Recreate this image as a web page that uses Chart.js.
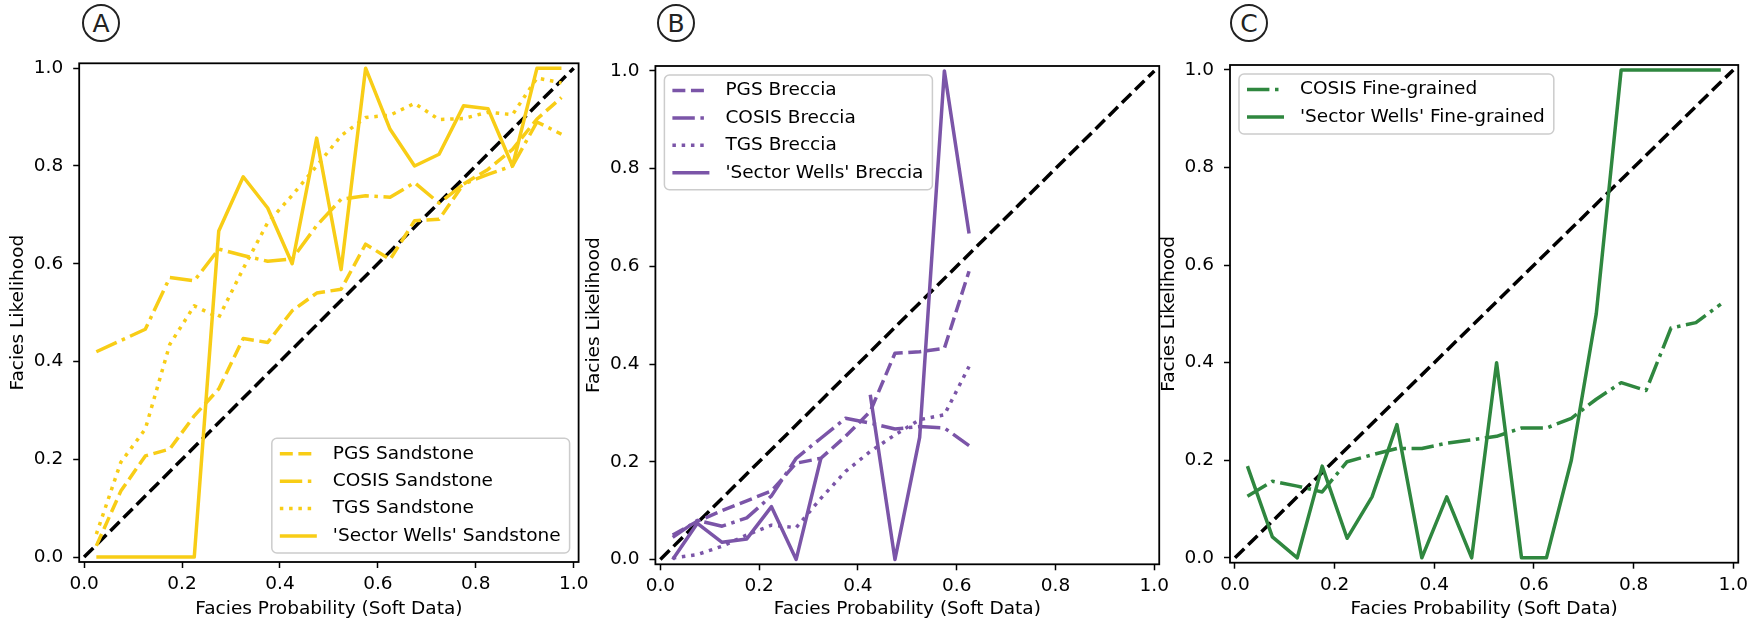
<!DOCTYPE html>
<html>
<head>
<meta charset="utf-8">
<title>Facies likelihood vs facies probability</title>
<script src="https://cdn.jsdelivr.net/npm/chart.js"></script>
<style>
    body {
        margin: 0;
        width: 1753px;
        height: 624px;
        position: relative;
        overflow: hidden;
        background: #fff;
        font-family: 'DejaVu Sans', sans-serif;
    }
    canvas {
        position: absolute;
        top: 0;
    }
    .tag {
        position: absolute;
        width: 34px;
        height: 34px;
        border: 2px solid #222;
        border-radius: 50%;
        text-align: center;
        line-height: 35px;
        font-size: 25px;
        color: #222;
    }
</style>
</head>
<body>
    <div class="tag" style="left:82px;top:4px">A</div>
    <div class="tag" style="left:657px;top:4px">B</div>
    <div class="tag" style="left:1230px;top:4px">C</div>

    <canvas id="chartA" width="599" height="624" style="left:0px"></canvas>
    <canvas id="chartB" width="598" height="624" style="left:576px"></canvas>
    <canvas id="chartC" width="602" height="624" style="left:1151px"></canvas>

<script>
// bin centres of the soft-data probability classes
var binCenters = [0.025, 0.075, 0.125, 0.175, 0.225, 0.275, 0.325, 0.375, 0.425, 0.475,
                  0.525, 0.575, 0.625, 0.675, 0.725, 0.775, 0.825, 0.875, 0.925, 0.975];
var axisTicks = [0, 0.2, 0.4, 0.6, 0.8, 1.0];
var diagonal = [0, 1];

// Sandstone
var pgsSandstone   = [0.023, 0.135, 0.207, 0.221, 0.289, 0.344, 0.447, 0.439, 0.504, 0.540,
                      0.548, 0.640, 0.609, 0.688, 0.691, 0.763, 0.793, 0.834, 0.896, 0.940];
var cosisSandstone = [0.420, 0.443, 0.466, 0.572, 0.565, 0.630, 0.617, 0.605, 0.610, 0.678,
                      0.732, 0.739, 0.736, 0.766, 0.724, 0.763, 0.783, 0.800, 0.890, 0.865];
var tgsSandstone   = [0.047, 0.194, 0.262, 0.435, 0.514, 0.490, 0.590, 0.684, 0.740, 0.800,
                      0.862, 0.899, 0.904, 0.928, 0.895, 0.897, 0.910, 0.905, 0.980, 0.970];
var wellsSandstone = [0, 0, 0, 0, 0, 0.667, 0.778, 0.714, 0.600, 0.857,
                      0.588, 1, 0.875, 0.800, 0.824, 0.923, 0.917, 0.800, 1, 1];

// Breccia (no samples above 0.65, wells have an empty bin at 0.375)
var pgsBreccia   = [0.050, 0.078, 0.100, 0.120, 0.140, 0.197, 0.207, 0.252, 0.303, 0.422, 0.425, 0.432, 0.590];
var cosisBreccia = [0.045, 0.080, 0.068, 0.085, 0.130, 0.207, 0.248, 0.289, 0.279, 0.267, 0.272, 0.269, 0.233];
var tgsBreccia   = [0.003, 0.010, 0.027, 0.050, 0.070, 0.065, 0.125, 0.180, 0.221, 0.255, 0.286, 0.296, 0.395];
var wellsBreccia = [0, 0.074, 0.035, 0.042, 0.108, 0, 0.207, null, 0.337, 0, 0.250, 1, 0.667];

// Fine-grained
var cosisFine = [0.126, 0.157, 0.147, 0.135, 0.197, 0.211, 0.224, 0.224, 0.235, 0.242,
                 0.249, 0.266, 0.266, 0.286, 0.325, 0.359, 0.343, 0.471, 0.482, 0.520];
var wellsFine = [0.188, 0.043, 0, 0.188, 0.040, 0.125, 0.273, 0, 0.125, 0,
                 0.400, 0, 0, 0.200, 0.500, 1, 1, 1, 1, 1];

var YELLOW = '#f8cd16';
var PURPLE = '#7b55a8';
var GREEN = '#2f873f';

var FONT = "'DejaVu Sans', sans-serif";
var FONT_SIZE = 18.5;
var LW = 3.5;

Chart.defaults.font.family = FONT;
Chart.defaults.font.size = FONT_SIZE;
Chart.defaults.color = '#000';

// dash patterns scale with the line width, as in matplotlib
var dashes = {
    solid: [],
    dashed: [3.7 * LW, 1.6 * LW],
    dashdot: [6.4 * LW, 1.6 * LW, 1 * LW, 1.6 * LW],
    dotted: [1 * LW, 1.65 * LW]
};

function series(label, values, color, style, order) {
    return {
        label: label,
        data: values.map((v, i) => ({ x: binCenters[i], y: v })),
        borderColor: color,
        borderWidth: LW,
        borderDash: dashes[style],
        borderJoinStyle: 'round',
        pointRadius: 0,
        fill: false,
        tension: 0,
        order: order
    };
}

function oneToOne() {
    return {
        label: '',
        data: diagonal.map(v => ({ x: v, y: v })),
        borderColor: '#000',
        borderWidth: LW,
        borderDash: dashes.dashed,
        pointRadius: 0,
        fill: false,
        order: 20
    };
}

// black box round the plot area
var frame = {
    id: 'frame',
    afterDatasetsDraw(chart) {
        var a = chart.chartArea, ctx = chart.ctx;
        ctx.save();
        ctx.strokeStyle = '#000';
        ctx.lineWidth = 1.8;
        ctx.strokeRect(a.left, a.top, a.right - a.left, a.bottom - a.top);
        ctx.restore();
    }
};

// matplotlib style legend: framed box with line samples
var boxLegend = {
    id: 'boxLegend',
    afterDraw(chart, args, opts) {
        var ctx = chart.ctx, a = chart.chartArea;
        var items = chart.data.datasets.filter(d => d.label);
        items.sort((p, q) => q.order - p.order);
        ctx.save();
        ctx.font = FONT_SIZE + 'px ' + FONT;
        var textW = Math.max.apply(null, items.map(d => ctx.measureText(d.label).width));
        var w = 8 + 37 + 16 + textW + 9;
        var h = 15.5 + (items.length - 1) * 27.4 + 17;
        var x, y;
        if (opts.corner === 'lower right') {
            x = a.right - 9 - w;
            y = a.bottom - 9 - h;
        } else {
            x = a.left + 9;
            y = a.top + 9;
        }
        ctx.beginPath();
        ctx.roundRect(x, y, w, h, 5);
        ctx.fillStyle = 'rgba(255,255,255,0.8)';
        ctx.fill();
        ctx.strokeStyle = '#cccccc';
        ctx.lineWidth = 1.5;
        ctx.stroke();
        items.forEach((d, i) => {
            var cy = y + 15.5 + i * 27.4;
            ctx.beginPath();
            ctx.setLineDash(d.borderDash);
            ctx.strokeStyle = d.borderColor;
            ctx.lineWidth = d.borderWidth;
            ctx.moveTo(x + 8, cy);
            ctx.lineTo(x + 45, cy);
            ctx.stroke();
            ctx.setLineDash([]);
            ctx.fillStyle = '#000';
            ctx.textBaseline = 'middle';
            ctx.fillText(d.label, x + 61, cy);
        });
        ctx.restore();
    }
};

function makeChart(canvasId, canvasLeft, plot, datasets, corner) {
    var canvas = document.getElementById(canvasId);
    var ctx = canvas.getContext('2d');
    var tickGrid = { drawOnChartArea: false, drawTicks: true, tickLength: 6, tickColor: '#000', tickWidth: 1.5 };
    return new Chart(ctx, {
        type: 'line',
        data: { datasets: datasets },
        options: {
            responsive: false,
            animation: false,
            events: [],
            devicePixelRatio: 1,
            layout: {
                padding: { left: 0, top: plot.top, right: canvas.width - plot.right, bottom: 0 }
            },
            scales: {
                x: {
                    type: 'linear',
                    min: -0.01,
                    max: 1.01,
                    afterBuildTicks: s => { s.ticks = axisTicks.map(v => ({ value: v })); },
                    afterFit: s => { s.height = 624 - plot.bottom; },
                    ticks: { callback: v => Number(v).toFixed(1), padding: 5, maxRotation: 0, autoSkip: false },
                    grid: tickGrid,
                    border: { display: false },
                    title: { display: true, text: 'Facies Probability (Soft Data)', padding: { top: 0, bottom: 4 } }
                },
                y: {
                    type: 'linear',
                    min: -0.01,
                    max: 1.01,
                    afterBuildTicks: s => { s.ticks = axisTicks.map(v => ({ value: v })); },
                    afterFit: s => { s.width = plot.left - canvasLeft; },
                    ticks: { callback: v => Number(v).toFixed(1), padding: 10, autoSkip: false },
                    grid: tickGrid,
                    border: { display: false },
                    title: { display: true, text: 'Facies Likelihood', padding: { top: 7, bottom: 0 } }
                }
            },
            plugins: {
                legend: { display: false },
                tooltip: { enabled: false },
                boxLegend: { corner: corner }
            }
        },
        plugins: [frame, boxLegend]
    });
}

makeChart('chartA', 0, { left: 79.2, top: 63.3, right: 578.6, bottom: 562 }, [
    oneToOne(),
    series('PGS Sandstone', pgsSandstone, YELLOW, 'dashed', 4),
    series('COSIS Sandstone', cosisSandstone, YELLOW, 'dashdot', 3),
    series('TGS Sandstone', tgsSandstone, YELLOW, 'dotted', 2),
    series("'Sector Wells' Sandstone", wellsSandstone, YELLOW, 'solid', 1)
], 'lower right');

makeChart('chartB', 576, { left: 655.4, top: 66, right: 1154, bottom: 564.3 }, [
    oneToOne(),
    series('PGS Breccia', pgsBreccia, PURPLE, 'dashed', 4),
    series('COSIS Breccia', cosisBreccia, PURPLE, 'dashdot', 3),
    series('TGS Breccia', tgsBreccia, PURPLE, 'dotted', 2),
    series("'Sector Wells' Breccia", wellsBreccia, PURPLE, 'solid', 1)
], 'upper left');

makeChart('chartC', 1151, { left: 1230, top: 65, right: 1728.5, bottom: 562.7 }, [
    oneToOne(),
    series('COSIS Fine-grained', cosisFine, GREEN, 'dashdot', 2),
    series("'Sector Wells' Fine-grained", wellsFine, GREEN, 'solid', 1)
], 'upper left');
</script>
</body>
</html>
